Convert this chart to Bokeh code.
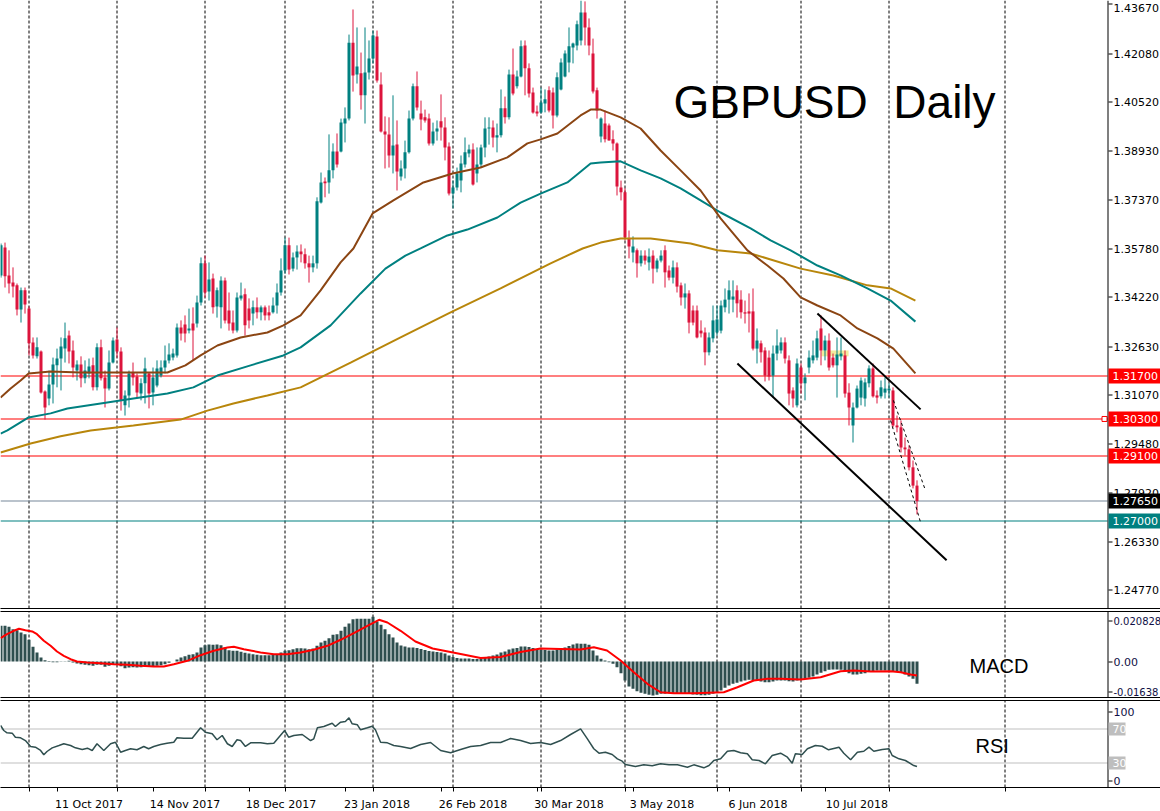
import math
import numpy as np
from bokeh.plotting import figure
from bokeh.models import (Range1d, FixedTicker, LinearAxis, ColumnDataSource)
from bokeh.layouts import column
from bokeh.embed import file_html
from bokeh.resources import INLINE
from bokeh.core.properties import value

# ------------------------------------------------------------------ data
# GBPUSD daily bars (bar 0 = 21 Sep 2017 ... bar 229 = 10 Aug 2018), prices in 1e-4 units
opens = [13493, 13583, 13493, 13470, 13461, 13383, 13445, 13386, 13277, 13232,
         13248, 13119, 13096, 13141, 13203, 13225, 13257, 13299, 13251, 13186,
         13206, 13161, 13177, 13203, 13132, 13261, 13164, 13128, 13212, 13286,
         13248, 13074, 13106, 13180, 13167, 13112, 13145, 13177, 13115, 13138,
         13170, 13196, 13219, 13228, 13235, 13325, 13335, 13315, 13338, 13338,
         13406, 13532, 13441, 13483, 13393, 13390, 13477, 13380, 13341, 13315,
         13419, 13432, 13386, 13370, 13390, 13374, 13390, 13374, 13374, 13396,
         13438, 13509, 13590, 13515, 13551, 13570, 13561, 13532, 13519, 13532,
         13728, 13796, 13793, 13832, 13893, 13893, 13983, 13999, 14244, 14141,
         14145, 14074, 14148, 14193, 14264, 14109, 13957, 13948, 13880, 13915,
         13812, 13838, 13890, 13999, 14103, 14015, 14003, 13999, 13919, 13957,
         13990, 13970, 13909, 13757, 13777, 13799, 13851, 13886, 13899, 13822,
         13851, 13906, 13967, 13970, 13938, 13945, 14032, 14003, 14141, 14103,
         14135, 14235, 14161, 14083, 14022, 14019, 14048, 14090, 14083, 14009,
         14093, 14135, 14180, 14228, 14235, 14251, 14341, 14293, 14209, 14090,
         13941, 13983, 13977, 13932, 13919, 13777, 13761, 13612, 13567, 13574,
         13532, 13557, 13535, 13557, 13515, 13541, 13574, 13509, 13486, 13519,
         13461, 13422, 13435, 13380, 13380, 13315, 13309, 13245, 13290, 13309,
         13315, 13390, 13415, 13415, 13445, 13415, 13374, 13377, 13377, 13257,
         13274, 13251, 13228, 13170, 13241, 13251, 13277, 13219, 13122, 13074,
         13196, 13145, 13196, 13219, 13228, 13322, 13251, 13283, 13228, 13203,
         13232, 13235, 13115, 13009, 13067, 13099, 13096, 13145, 13193, 13106,
         13103, 13115, 13122, 13122, 13009, 13003, 12938, 12932, 12874, 12815]
highs = [13596, 13599, 13574, 13519, 13467, 13454, 13454, 13393, 13293, 13293,
         13251, 13122, 13186, 13228, 13257, 13293, 13341, 13315, 13283, 13219,
         13232, 13219, 13225, 13228, 13274, 13286, 13186, 13251, 13293, 13325,
         13261, 13122, 13186, 13212, 13177, 13161, 13228, 13180, 13196, 13219,
         13219, 13267, 13274, 13257, 13338, 13348, 13364, 13386, 13390, 13428,
         13551, 13557, 13535, 13499, 13454, 13490, 13486, 13438, 13380, 13438,
         13470, 13451, 13419, 13412, 13422, 13396, 13396, 13396, 13422, 13467,
         13548, 13615, 13615, 13567, 13590, 13593, 13580, 13557, 13557, 13745,
         13825, 13809, 13948, 13919, 13951, 13999, 14035, 14270, 14351, 14293,
         14212, 14293, 14251, 14283, 14283, 14148, 14006, 14003, 14074, 13993,
         13864, 13928, 14025, 14112, 14151, 14057, 14028, 14015, 13986, 13993,
         14077, 14003, 13922, 13799, 13841, 13880, 13938, 13915, 13919, 13906,
         13915, 14003, 14003, 13993, 13983, 14093, 14070, 14157, 14225, 14154,
         14251, 14251, 14177, 14099, 14041, 14099, 14093, 14103, 14099, 14148,
         14193, 14219, 14293, 14244, 14315, 14380, 14377, 14322, 14257, 14099,
         14003, 14025, 13983, 13961, 13922, 13799, 13774, 13638, 13619, 13580,
         13574, 13574, 13580, 13574, 13548, 13574, 13590, 13525, 13541, 13535,
         13470, 13467, 13445, 13396, 13396, 13348, 13325, 13309, 13396, 13396,
         13412, 13451, 13477, 13477, 13461, 13445, 13412, 13435, 13451, 13322,
         13283, 13261, 13251, 13267, 13319, 13293, 13293, 13235, 13132, 13225,
         13209, 13177, 13251, 13283, 13315, 13364, 13299, 13306, 13241, 13293,
         13293, 13251, 13145, 13083, 13138, 13164, 13161, 13203, 13209, 13122,
         13154, 13164, 13145, 13132, 13041, 13025, 12970, 12945, 12896, 12832]
lows = [13486, 13454, 13435, 13422, 13364, 13341, 13370, 13235, 13225, 13225,
        13112, 13028, 13074, 13080, 13132, 13122, 13212, 13209, 13164, 13154,
        13132, 13145, 13161, 13122, 13122, 13154, 13067, 13122, 13209, 13228,
        13057, 13041, 13067, 13138, 13099, 13090, 13080, 13064, 13074, 13132,
        13164, 13177, 13209, 13219, 13228, 13283, 13277, 13306, 13219, 13325,
        13396, 13422, 13412, 13370, 13357, 13322, 13338, 13315, 13306, 13309,
        13412, 13299, 13322, 13332, 13354, 13348, 13348, 13348, 13370, 13370,
        13428, 13499, 13496, 13506, 13512, 13535, 13515, 13470, 13503, 13515,
        13725, 13745, 13757, 13806, 13841, 13890, 13922, 13993, 14086, 14112,
        14028, 13983, 14125, 14177, 14115, 13954, 13838, 13841, 13822, 13767,
        13799, 13806, 13886, 13993, 14025, 13961, 13986, 13912, 13912, 13928,
        13928, 13864, 13751, 13709, 13767, 13761, 13841, 13874, 13783, 13793,
        13841, 13874, 13915, 13906, 13890, 13938, 13983, 13996, 14074, 14096,
        14132, 14074, 14067, 14015, 14006, 14015, 14019, 14019, 13967, 14003,
        14090, 14132, 14148, 14177, 14219, 14235, 14235, 14203, 14080, 13999,
        13922, 13922, 13928, 13896, 13751, 13735, 13606, 13548, 13535, 13486,
        13522, 13528, 13509, 13467, 13503, 13535, 13454, 13477, 13467, 13438,
        13396, 13386, 13306, 13332, 13290, 13293, 13203, 13235, 13277, 13299,
        13306, 13374, 13370, 13374, 13357, 13354, 13338, 13309, 13251, 13209,
        13212, 13151, 13154, 13099, 13219, 13241, 13209, 13074, 13067, 13067,
        13112, 13090, 13177, 13209, 13219, 13203, 13219, 13186, 13196, 13099,
        13219, 13099, 13009, 12954, 13064, 13074, 13070, 13132, 13099, 13080,
        13096, 13096, 13099, 13003, 12987, 12922, 12912, 12864, 12806, 12722]
closes = [13590, 13490, 13467, 13457, 13383, 13445, 13399, 13274, 13235, 13261,
          13115, 13067, 13141, 13206, 13225, 13264, 13290, 13248, 13196, 13206,
          13161, 13186, 13199, 13132, 13261, 13161, 13128, 13212, 13283, 13248,
          13090, 13106, 13177, 13164, 13115, 13145, 13193, 13112, 13164, 13193,
          13196, 13219, 13238, 13241, 13325, 13306, 13306, 13322, 13315, 13406,
          13532, 13438, 13480, 13390, 13445, 13477, 13348, 13338, 13315, 13422,
          13428, 13332, 13348, 13390, 13374, 13390, 13364, 13364, 13396, 13438,
          13509, 13590, 13512, 13551, 13570, 13561, 13532, 13519, 13532, 13732,
          13793, 13790, 13832, 13893, 13851, 13986, 13999, 14244, 14138, 14167,
          14074, 14148, 14193, 14267, 14122, 13957, 13948, 13880, 13912, 13828,
          13838, 13890, 13999, 14103, 14035, 13996, 13993, 13919, 13957, 13967,
          13970, 13906, 13757, 13777, 13822, 13854, 13890, 13899, 13786, 13851,
          13906, 13967, 13970, 13938, 13945, 14032, 14003, 14141, 14080, 14135,
          14232, 14161, 14080, 14019, 14015, 14051, 14061, 14025, 14009, 14132,
          14180, 14209, 14232, 14241, 14303, 14341, 14293, 14235, 14086, 14025,
          13999, 13932, 13928, 13919, 13780, 13761, 13615, 13586, 13586, 13532,
          13557, 13541, 13554, 13515, 13541, 13557, 13503, 13486, 13519, 13457,
          13422, 13435, 13341, 13341, 13293, 13306, 13245, 13293, 13348, 13351,
          13396, 13415, 13445, 13425, 13403, 13374, 13370, 13370, 13257, 13283,
          13245, 13170, 13167, 13241, 13267, 13277, 13225, 13112, 13096, 13209,
          13145, 13164, 13228, 13235, 13290, 13251, 13283, 13196, 13203, 13238,
          13241, 13112, 13067, 13067, 13128, 13154, 13148, 13193, 13103, 13099,
          13132, 13128, 13128, 13009, 13003, 12938, 12932, 12874, 12815, 12765]

# moving averages, sampled (bar index, price 1e-4)
ma_brown_bar = [-0.1, 2.4, 4.9, 6.9, 12.4, 19.9, 29.9, 37.4, 41.6, 46.1,
                49.9, 54.1, 59.9, 66.6, 70.6, 74.9, 79.9, 84.9, 88.1, 92.9,
                98.1, 105.6, 112.9, 119.9, 126.6, 131.6, 134.9, 139.1, 144.9, 147.4,
                149.9, 154.9, 159.9, 164.9, 169.9, 174.9, 179.9, 186.6, 191.6, 195.6,
                199.9, 204.1, 209.9, 214.1, 219.1, 223.1, 228.6]
ma_brown_val = [13099, 13128, 13154, 13177, 13183, 13180, 13180, 13180, 13180, 13203,
                13235, 13267, 13293, 13309, 13332, 13364, 13445, 13535, 13580, 13693,
                13735, 13793, 13822, 13841, 13874, 13919, 13932, 13951, 14009, 14028,
                14028, 14003, 13967, 13896, 13832, 13767, 13677, 13574, 13525, 13483,
                13422, 13396, 13364, 13322, 13290, 13257, 13177]
ma_teal_bar = [-0.1, 1.6, 6.9, 12.4, 16.6, 24.9, 33.1, 41.6, 48.1, 54.1,
               62.4, 70.6, 74.9, 82.4, 89.9, 96.1, 101.1, 104.9, 111.6, 116.6,
               124.1, 129.9, 134.9, 141.6, 147.4, 149.9, 154.9, 159.9, 164.9, 169.9,
               174.9, 179.9, 187.4, 192.4, 197.4, 204.1, 209.9, 216.6, 222.4, 228.6]
ma_teal_val = [12983, 12993, 13035, 13048, 13064, 13080, 13096, 13112, 13132, 13170,
               13203, 13235, 13261, 13332, 13435, 13515, 13557, 13580, 13622, 13641,
               13680, 13728, 13757, 13793, 13854, 13857, 13861, 13832, 13806, 13774,
               13735, 13696, 13645, 13606, 13574, 13525, 13493, 13451, 13412, 13344]
ma_gold_bar = [-0.1, 7.4, 14.9, 22.4, 33.1, 44.9, 51.6, 58.1, 66.6, 74.9,
               87.4, 99.9, 112.4, 124.9, 137.4, 145.4, 149.9, 154.9, 162.4, 172.4,
               179.1, 187.4, 199.9, 208.1, 216.6, 222.4, 228.6]
ma_gold_val = [12922, 12951, 12974, 12993, 13009, 13028, 13057, 13080, 13106, 13132,
               13212, 13293, 13374, 13451, 13532, 13580, 13599, 13612, 13612, 13596,
               13574, 13564, 13515, 13493, 13461, 13451, 13412]

# MACD histogram per bar (1e-4 units)
macd_hist = [152.8, 152.8, 148.5, 138.2, 134.0, 124.1, 116.8, 92.9, 62.9, 38.5,
             17.1, 5.6, -2, -3, -3, -1.3, 1.3, 3, -4.3, -8.6,
             -11.6, -14.1, -15.8, -18.4, -14.1, -14.1, -22.7, -18.4, -11.6, -11.6,
             -20.1, -28.7, -25.7, -24.4, -25.7, -24.4, -21.4, -22.7, -20.1, -18.4,
             -15.8, -11.6, -5.6, 0.5, 8.6, 17.1, 22.7, 28.7, 31.2, 38.5,
             59.9, 69.8, 72.8, 71.5, 72.8, 69.8, 59.9, 48.4, 45.8, 45.8,
             41.5, 37.2, 34.2, 31.2, 28.7, 27, 27, 27, 28.7, 31.2,
             38.5, 45.8, 48.4, 52.6, 56.9, 56.9, 55.6, 52.6, 55.6, 67.2,
             81.3, 88.6, 99.7, 114.3, 116.8, 131.4, 148.5, 162.6, 181, 182.8,
             182.8, 182.8, 182.8, 191.3, 171.2, 157.1, 138.2, 116.8, 102.7, 81.3,
             68.5, 64.2, 59.9, 59.9, 57.8, 53.5, 49.2, 44.9, 42.8, 40.7,
             38.5, 34.2, 25.7, 19.3, 15, 12.8, 12.8, 12.8, 10.7, 10.7,
             12.8, 17.1, 21.4, 25.7, 30, 38.5, 42.8, 51.4, 55.6, 57.8,
             64.2, 64.2, 62.1, 57.8, 53.5, 51.4, 49.2, 47.1, 47.1, 51.4,
             55.6, 59.9, 66.3, 72.8, 77, 75.8, 75.8, 71.5, 47.1, 25.7,
             11.6, 4.3, -3, -9.8, -24.4, -50.1, -81.3, -107, -116.8, -127.1,
             -134, -138.2, -142.5, -145.5, -142.5, -138.2, -138.2, -135.7, -135.7, -135.7,
             -135.7, -135.7, -138.2, -141.2, -142.5, -144.2, -144.2, -142.5, -138.2, -131.4,
             -124.1, -112.6, -102.7, -95.4, -91.2, -85.6, -81.3, -78.3, -81.3, -81.3,
             -85.6, -88.6, -88.6, -85.6, -81.3, -81.3, -81.3, -84.3, -85.6, -81.3,
             -77, -74, -69.8, -64.2, -55.6, -48.4, -41.5, -35.5, -34.2, -34.2,
             -35.5, -42.8, -50.1, -55.6, -55.6, -52.6, -50.1, -42.8, -41.5, -38.5,
             -38.5, -38.5, -38.5, -41.5, -42.8, -48.4, -55.6, -64.2, -74, -95.4]
# MACD signal line, sampled (bar index, 1e-4 units)
signal_bar = [-0.1, 1.5, 3.2, 4.5, 6.1, 7.8, 9.0, 10.7, 12.4, 14.0, 15.7, 17.4, 19.0, 21.6,
              24.9, 28.2, 31.6, 34.9, 38.2, 40.7, 43.2, 46.6, 49.9, 53.2, 56.6, 58.2, 60.7,
              64.9, 68.2, 71.6, 74.9, 78.2, 81.6, 84.9, 88.2, 91.6, 94.5, 96.6, 99.9, 103.6,
              107.9, 114.9, 119.9, 124.9, 129.9, 134.9, 139.9, 144.9, 148.2, 151.5, 154.9,
              158.2, 161.6, 164.9, 168.2, 173.2, 180.7, 184.1, 188.2, 191.6, 194.9, 199.9,
              204.9, 209.9, 213.2, 217.4, 222.4, 224.9, 227.4, 229.0]
signal_val = [99.7, 116.8, 131.4, 140, 134, 128.4, 116.8, 88.6, 67.2, 42.8, 24.4, 9.8, 0, -4.3,
              -7.3, -11.6, -14.1, -18.4, -21.4, -21.4, -11.6, 3, 27, 45.8, 59.9, 62.9, 52.6,
              38.5, 31.2, 31.2, 38.5, 50.1, 67.2, 92.9, 121.1, 152.8, 178.5, 166.9, 131.4, 85.6,
              55.6, 32.1, 15, 19.3, 40.7, 55.6, 53.5, 51.4, 61.2, 47.1, 4.3,
              -45.8, -95.4, -131.4, -135.7, -135.7, -131.4, -110, -81.3, -74, -74, -77,
              -67.2, -41.5, -38.5, -42.8, -41.5, -45.8, -55.6, -59.9]

# RSI, sampled (bar index, value)
rsi_bar = [-0.1, 0.7, 1.5, 2.8, 3.6, 4.9, 6.1, 7.4, 8.6, 9.9,
           10.7, 11.5, 12.8, 14.5, 15.7, 17.4, 18.6, 20.3, 21.6, 22.8,
           24.0, 25.7, 27.4, 28.6, 29.9, 31.1, 32.4, 34.0, 35.7, 36.9,
           38.2, 39.9, 41.5, 43.2, 44.0, 45.7, 47.8, 49.9, 51.1, 52.8,
           54.0, 55.3, 56.6, 57.8, 59.0, 59.9, 61.1, 62.4, 64.9, 66.6,
           68.2, 70.9, 71.9, 73.2, 75.3, 77.4, 78.2, 79.1, 80.7, 82.8,
           83.6, 84.9, 86.1, 87.0, 87.8, 89.1, 89.9, 91.6, 92.8, 93.6,
           94.9, 96.6, 98.2, 99.9, 102.4, 104.9, 107.4, 109.9, 112.4, 114.9,
           117.4, 119.9, 122.4, 124.9, 127.4, 129.9, 132.4, 134.9, 137.4, 139.9,
           142.4, 144.9, 146.6, 148.2, 149.5, 151.1, 152.8, 154.1, 155.3, 156.1,
           157.4, 158.6, 160.7, 162.8, 164.9, 167.0, 169.1, 171.6, 173.2, 175.7,
           177.0, 178.2, 179.9, 181.6, 183.2, 184.9, 186.6, 187.8, 189.5, 191.1,
           192.8, 194.9, 196.6, 197.8, 198.6, 200.3, 201.6, 203.6, 205.3, 206.9,
           209.5, 210.7, 212.4, 214.1, 215.7, 217.0, 218.2, 220.3, 222.0, 222.8,
           224.5, 226.1, 228.2, 229.0]
rsi_val = [73.9, 68, 65.3, 64.9, 60.1, 59.4, 56.2, 49.2, 48.4, 44.5,
           39.4, 43.3, 47.6, 50.4, 52.4, 50.4, 47.6, 45.6, 47.2, 44.5,
           52.4, 44.5, 52.4, 54.2, 42.5, 44.5, 46.5, 45.3, 49.2, 46.5,
           49.2, 51.5, 53.1, 54.2, 59.4, 58.9, 58.9, 71.2, 66, 64.1,
           57.1, 62.1, 52.4, 49.2, 57.1, 56.2, 49.2, 53.5, 53.5, 52.4,
           53.1, 68, 60.1, 62.1, 63.3, 56.2, 58.2, 71.2, 72.7, 76.6,
           72.7, 77.8, 78.6, 82.9, 75.9, 74.7, 68.8, 71.2, 73.1, 68.8,
           54.2, 53.5, 50.4, 49.2, 46.8, 51.5, 53.9, 44.5, 41.8, 45.6,
           49.2, 50.4, 53.9, 53.9, 58.6, 56.2, 52.7, 53.9, 51.5, 56.2,
           63.3, 70, 58.2, 46.5, 41.3, 42.5, 39.8, 34.7, 31.9, 28,
           26.8, 25.6, 27.6, 26.5, 28.8, 27.6, 27.6, 24.8, 27.6, 24.1,
           26.8, 32.7, 34.7, 43.6, 44.5, 41.8, 40.6, 33.5, 32.7, 28.8,
           38.6, 41.3, 36.6, 29.5, 40.6, 39.8, 46.5, 50.4, 49.5, 45.3,
           48.4, 41.3, 33.5, 42.5, 43.6, 48.4, 43.6, 45.6, 46.5, 38.6,
           34.7, 32.7, 26.8, 25.6]

# axis texts
price_ticks = [1.4367, 1.4208, 1.4052, 1.3893, 1.3737, 1.3578, 1.3422,
               1.3263, 1.3107, 1.2948, 1.2792, 1.2633, 1.2477]
date_labels = ["11 Oct 2017", "14 Nov 2017", "18 Dec 2017", "23 Jan 2018", "26 Feb 2018",
               "30 Mar 2018", "3 May 2018", "6 Jun 2018", "10 Jul 2018"]
date_label_bars = [14, 38, 62, 86, 110, 134, 158, 182, 206]
month_start_bars = [7, 29, 51, 71, 93, 113, 135, 156, 179, 200, 222, 251]
macd_scale_labels = ["0.020828", "0.00", "-0.01638"]
rsi_scale_labels = ["100", "70", "30", "0"]
rsi_levels = [70.0, 30.0]

# horizontal price levels
level_prices = [1.3170, 1.3030, 1.2910, 1.2765, 1.2700]
level_texts = ["1.31700", "1.30300", "1.29100", "1.27650", "1.27000"]

# drawn objects
upper_channel_bar = [204.1, 229.9]
upper_channel_price = [1.3370, 1.3061]
lower_channel_bar = [184.1, 236.4]
lower_channel_price = [1.3209, 1.2574]
dash_a_bar = [223.1, 231.1]
dash_a_price = [1.3090, 1.2800]
dash_b_bar = [222.4, 229.9]
dash_b_price = [1.3025, 1.2696]
highlight_bar = [205.1, 211.9]
highlight_price = [1.3232, 1.3251]

# ------------------------------------------------------------------ styles / geometry
TEAL = "#008080"
RED = "#DC143C"
BROWN = "#8B4513"
GOLD = "#B8860B"
SLATE = "#2F4F4F"
NAVY = "#101046"
level_colors = ["#FF0000", "#FF0000", "#FF0000", "#778899", TEAL]
badge_colors = ["#FF0000", "#FF0000", "#FF0000", "#000000", TEAL]
FONT = "DejaVu Sans"

PX = 4.0            # pixels per bar
CANVAS_W = 1160
AXIS_COL = 1107     # pixel column of the price scale line
xr = Range1d(-0.125, CANVAS_W / PX - 0.125)


def bar_at(px):
    return px / PX - 0.125


class Panel:
    def __init__(self, frame_top, frame_h, top_val, ppu, border_top, border_bottom):
        self.frame_top = frame_top
        self.ppu = ppu
        self.top_val = top_val
        bottom_val = top_val - frame_h / ppu
        f = figure(frame_width=CANVAS_W, frame_height=frame_h, x_range=xr,
                   y_range=Range1d(bottom_val, top_val), x_axis_location=None,
                   y_axis_location=None, output_backend="svg", toolbar_location=None,
                   min_border_left=0, min_border_right=0, min_border_top=border_top,
                   min_border_bottom=border_bottom, outline_line_color=None,
                   background_fill_color="white", border_fill_color="white")
        f.grid.visible = False
        self.f = f
        self.bottom_val = bottom_val

    def v(self, canvas_y):          # canvas pixel row -> data value
        return self.top_val - (canvas_y - self.frame_top) / self.ppu

    def y(self, val):               # data value -> canvas pixel
        return self.frame_top + (self.top_val - val) * self.ppu

    def hline(self, val, color, x_end=AXIS_COL):
        r = math.floor(self.y(val))
        self.f.quad(left=[bar_at(0)], right=[bar_at(x_end)], bottom=[self.v(r + 1)],
                    top=[self.v(r)], fill_color=color, line_color=None)

    def grid(self):
        xs = list(month_start_bars)
        self.f.segment(x0=xs, y0=[self.bottom_val] * len(xs), x1=xs,
                       y1=[self.top_val] * len(xs), line_color="black", line_width=1,
                       line_dash="3 2")

    def scale(self, rows, labels, color, sizes=None, text_rows=None):
        f = self.f
        f.quad(left=[bar_at(AXIS_COL)], right=[bar_at(AXIS_COL + 1)],
               bottom=[self.bottom_val], top=[self.top_val], fill_color="black",
               line_color=None)
        rr = [math.floor(r) for r in rows]
        f.quad(left=[bar_at(AXIS_COL + 1)] * len(rr), right=[bar_at(AXIS_COL + 5)] * len(rr),
               bottom=[self.v(r + 1) for r in rr], top=[self.v(r) for r in rr],
               fill_color="black", line_color=None)
        if sizes is None:
            sizes = ["11px"] * len(rows)
        if text_rows is None:
            text_rows = [r + 0.5 for r in rr]
        src = ColumnDataSource(dict(x=[bar_at(AXIS_COL + 6)] * len(rows),
                                    y=[self.v(t) for t in text_rows],
                                    t=labels, s=sizes))
        f.text(x="x", y="y", text="t", text_font_size="s", text_font=value(FONT),
               text_color=color, text_align="left", text_baseline="middle", source=src)

    def badge(self, val, text, bg, half_up=7, half_down=8, right=CANVAS_W):
        r = math.floor(self.y(val))
        self.f.quad(left=[bar_at(AXIS_COL + 1)], right=[bar_at(right)],
                    bottom=[self.v(r + half_down)], top=[self.v(r - half_up)],
                    fill_color=bg, line_color=None)
        self.f.text(x=[bar_at(AXIS_COL + 5)], y=[self.v(r + 0.5)], text=[text],
                    text_font=value(FONT), text_font_size=value("11px"),
                    text_color="white", text_align="left", text_baseline="middle")


def border(f, side):
    a = LinearAxis(ticker=FixedTicker(ticks=[]), axis_line_color="black",
                   major_tick_out=0, major_tick_in=0, minor_tick_out=0, minor_tick_in=0,
                   major_label_standoff=0)
    f.add_layout(a, side)


# ------------------------------------------------------------------ main panel
TOP_PRICE = 1.43799
PPU = 3100.0
main = Panel(0, 608, TOP_PRICE, PPU, 0, 1)
pm = main.f
border(pm, "below")
main.grid()

O = np.array(opens) / 1e4
H = np.array(highs) / 1e4
L = np.array(lows) / 1e4
C = np.array(closes) / 1e4
bars = np.arange(len(C))
cols = np.where(C >= O, TEAL, RED)
src = ColumnDataSource(dict(x=bars, h=H, l=L, top=np.maximum(O, C), bot=np.minimum(O, C),
                            col=cols))

pm.quad(left=[highlight_bar[0]], right=[highlight_bar[1]], bottom=[highlight_price[0]],
        top=[highlight_price[1]], fill_color="#F0E68C", fill_alpha=0.85, line_color=None)

for lp, lc in zip(level_prices, level_colors):
    main.hline(lp, lc)

pm.segment(x0="x", y0="h", x1="x", y1="l", line_color="col", line_width=1, source=src)
pm.vbar(x="x", width=0.75, top="top", bottom="bot", fill_color="col", line_color=None,
        source=src)

pm.line(ma_gold_bar, np.array(ma_gold_val) / 1e4, line_color=GOLD, line_width=2)
pm.line(ma_teal_bar, np.array(ma_teal_val) / 1e4, line_color=TEAL, line_width=2)
pm.line(ma_brown_bar, np.array(ma_brown_val) / 1e4, line_color=BROWN, line_width=2)

pm.line(upper_channel_bar, upper_channel_price, line_color="black", line_width=2)
pm.line(lower_channel_bar, lower_channel_price, line_color="black", line_width=2)
pm.line(dash_a_bar, dash_a_price, line_color="black", line_width=1, line_dash="3 3")
pm.line(dash_b_bar, dash_b_price, line_color="black", line_width=1, line_dash="3 3")

pm.scatter([bar_at(1104)], [level_prices[1]], marker="square", size=5,
           fill_color="white", line_color="#FF0000")

tick_rows = [main.y(t) for t in price_ticks]
text_rows = [max(7.0, math.floor(r) + 0.5) for r in tick_rows]
main.scale(tick_rows, ["%.5f" % t for t in price_ticks], "black", text_rows=text_rows)
for lp, lt, bc in zip(level_prices, level_texts, badge_colors):
    main.badge(lp, lt, bc)

pm.text(x=[bar_at(673)], y=[main.v(101)], text=["GBPUSD\u00a0\u00a0Daily"],
        text_font=value("Liberation Sans"), text_font_size=value("46px"),
        text_color="black", text_align="left", text_baseline="middle")

# ------------------------------------------------------------------ MACD panel
MPPU = 2338.0
macd = Panel(611, 86, 50 / MPPU, MPPU, 2, 1)
pmacd = macd.f
border(pmacd, "above")
border(pmacd, "below")
macd.grid()
hsrc = ColumnDataSource(dict(x=np.arange(len(macd_hist)), v=np.array(macd_hist) / 1e4))
pmacd.vbar(x="x", width=0.75, top="v", bottom=0, fill_color=SLATE, line_color=None,
           source=hsrc)
pmacd.line(signal_bar, np.array(signal_val) / 1e4, line_color="#FF0000", line_width=2)
macd.scale([620, 661, 691], macd_scale_labels, NAVY, sizes=["10px", "11px", "10px"])
pmacd.text(x=[bar_at(969)], y=[macd.v(665)], text=["MACD"],
           text_font=value("Liberation Sans"), text_font_size=value("20px"),
           text_color="black", text_align="left", text_baseline="middle")

# ------------------------------------------------------------------ RSI panel
RPPU = 0.85
rsi = Panel(700, 87, (787.8 - 700) / RPPU, RPPU, 2, 24)
prsi = rsi.f
border(prsi, "above")
rsi.grid()
for lv in rsi_levels:
    rsi.hline(lv, "#C0C0C0")
prsi.line(rsi_bar, rsi_val, line_color=SLATE, line_width=1.5)
rsi.scale([711, 780], [rsi_scale_labels[0], rsi_scale_labels[3]], NAVY)
rsi.badge(rsi_levels[0], rsi_scale_labels[1], "#BEBEBE", half_up=6, half_down=7, right=1125)
rsi.badge(rsi_levels[1], rsi_scale_labels[2], "#BEBEBE", half_up=6, half_down=7, right=1125)
prsi.text(x=[bar_at(975)], y=[rsi.v(745.5)], text=["RSI"],
          text_font=value("Liberation Sans"), text_font_size=value("20px"),
          text_color="black", text_align="left", text_baseline="middle")

centers = [b + (3 * len(t) - 1) / PX for b, t in zip(date_label_bars, date_labels)]
dax = LinearAxis(ticker=FixedTicker(ticks=centers,
                                    minor_ticks=date_label_bars + month_start_bars),
                 major_label_overrides={c: t for c, t in zip(centers, date_labels)},
                 axis_line_color="black", major_tick_line_color=None,
                 major_tick_out=0, major_tick_in=0, minor_tick_out=4, minor_tick_in=0,
                 minor_tick_line_color="black", major_label_standoff=6,
                 major_label_text_font=FONT, major_label_text_font_size="11px",
                 major_label_text_color="black")
prsi.add_layout(dax, "below")

layout = column(pm, pmacd, prsi, spacing=0)
open("out.html", "w").write(file_html(layout, INLINE))
